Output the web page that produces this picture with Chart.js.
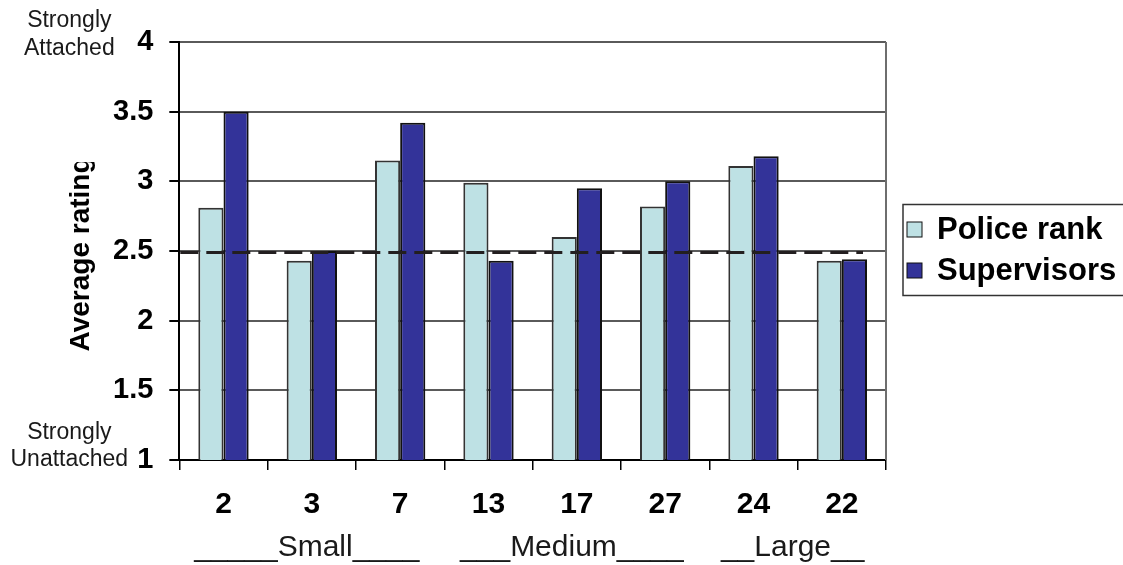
<!DOCTYPE html>
<html><head><meta charset="utf-8">
<script src="https://cdn.jsdelivr.net/npm/chart.js@4.4.0/dist/chart.umd.min.js"></script>
<style>html,body{margin:0;padding:0;background:#fff;} #wrap{width:1123px;height:565px;position:relative;}</style>
</head><body><div id="wrap"><canvas id="c"></canvas></div>
<script>
const categories = ['2','3','7','13','17','27','24','22'];
const seriesNames = ['Police rank','Supervisors'];
const policeRank = [2.81, 2.43, 3.15, 2.99, 2.60, 2.82, 3.11, 2.43];
const supervisors = [3.50, 2.50, 3.42, 2.43, 2.95, 3.00, 3.18, 2.44];
const seriesColors = ['#bee1e4', '#333399'];
const groupLabels = ['_____Small____', '___Medium____', '__Large__'];
const groupFirst = [0, 3, 6];
const groupLast = [2, 5, 7];
const yMin = 1, yMax = 4, yStep = 0.5;
const referenceLevel = [2.49];
const topEndLabel = ['Strongly', 'Attached'];
const bottomEndLabel = ['Strongly', 'Unattached'];
const yTitle = 'Average rating';

const FONT = "Arial, 'Liberation Sans', sans-serif";

const extras = {
  id: 'extras',
  afterDatasetsDraw(chart) {
    const {ctx, chartArea: a, scales: {y}} = chart;
    ctx.save();
    const ry = y.getPixelForValue(referenceLevel[0]);
    ctx.strokeStyle = '#231f20';
    ctx.lineWidth = 3;
    ctx.setLineDash([18, 8]);
    ctx.beginPath();
    ctx.moveTo(a.left + 1, ry);
    ctx.lineTo(a.right - 23, ry);
    ctx.stroke();
    ctx.restore();
  },
  afterDraw(chart) {
    const {ctx, chartArea: a, scales: {x, y}, width, height} = chart;
    ctx.save();
    ctx.strokeStyle = '#6e6e6e';
    ctx.lineWidth = 2;
    ctx.beginPath();
    ctx.moveTo(a.right, a.top);
    ctx.lineTo(a.right, a.bottom);
    ctx.stroke();

    ctx.fillStyle = '#1a1a1a';
    ctx.font = '30px ' + FONT;
    ctx.textAlign = 'center';
    ctx.textBaseline = 'alphabetic';
    for (let i = 0; i < groupLabels.length; i++) {
      const cx = (x.getPixelForValue(groupFirst[i]) + x.getPixelForValue(groupLast[i])) / 2 - 5;
      ctx.fillText(groupLabels[i], cx, a.bottom + 96);
    }

    ctx.font = '23px ' + FONT;
    const ex = a.left - 110;
    const y4 = y.getPixelForValue(yMax);
    const y1 = y.getPixelForValue(yMin);
    ctx.fillText(topEndLabel[0], ex, y4 - 15);
    ctx.fillText(topEndLabel[1], ex, y4 + 13);
    ctx.fillText(bottomEndLabel[0], ex, y1 - 21);
    ctx.fillText(bottomEndLabel[1], ex, y1 + 6);

    ctx.save();
    ctx.beginPath();
    ctx.rect(0, a.top + 120, a.left, height);
    ctx.clip();
    ctx.translate(a.left - 90, (a.top + a.bottom) / 2 + 3);
    ctx.rotate(-Math.PI / 2);
    ctx.font = 'bold 28px ' + FONT;
    ctx.fillStyle = '#000';
    ctx.textAlign = 'center';
    ctx.textBaseline = 'alphabetic';
    ctx.fillText(yTitle, 0, 0);
    ctx.restore();

    const mid = (a.top + a.bottom) / 2;
    const lx = a.right + 17;
    ctx.strokeStyle = '#333';
    ctx.lineWidth = 1.5;
    ctx.strokeRect(lx, mid - 46.5, width - lx + 5, 91);
    const rows = [mid - 21.5, mid + 19.5];
    ctx.font = 'bold 31px ' + FONT;
    ctx.textAlign = 'left';
    ctx.textBaseline = 'middle';
    chart.data.datasets.forEach((ds, i) => {
      ctx.fillStyle = ds.backgroundColor;
      ctx.fillRect(lx + 4, rows[i] - 7.5, 15, 15);
      ctx.strokeStyle = '#111';
      ctx.lineWidth = 1;
      ctx.strokeRect(lx + 4, rows[i] - 7.5, 15, 15);
      ctx.fillStyle = '#000';
      ctx.fillText(ds.label, lx + 34, rows[i] + 1);
    });
    ctx.restore();
  }
};

new Chart(document.getElementById('c'), {
  type: 'bar',
  data: {
    labels: categories,
    datasets: [
      {label: seriesNames[0], data: policeRank, backgroundColor: seriesColors[0], borderColor: '#333', borderWidth: 2},
      {label: seriesNames[1], data: supervisors, backgroundColor: seriesColors[1], borderColor: '#111', borderWidth: 2}
    ]
  },
  options: {
    responsive: true,
    maintainAspectRatio: false,
    animation: false,
    layout: {padding: {left: 97, right: 237, top: 42, bottom: 25}},
    datasets: {bar: {categoryPercentage: 0.57, barPercentage: 1.0}},
    plugins: {legend: {display: false}, tooltip: {enabled: false}},
    scales: {
      x: {
        grid: {offset: true, drawOnChartArea: false, drawTicks: true, tickLength: 10, color: '#000', lineWidth: 1.5},
        border: {display: true, color: '#000', width: 2},
        ticks: {font: {family: FONT, size: 30, weight: 'bold'}, color: '#000', padding: 17, maxRotation: 0, autoSkip: false}
      },
      y: {
        min: yMin, max: yMax,
        grid: {color: '#5a5a5a', lineWidth: 2, tickLength: 10, tickColor: '#000'},
        border: {display: true, color: '#000', width: 2},
        ticks: {stepSize: yStep, font: {family: FONT, size: 29, weight: 'bold'}, color: '#000', padding: 16,
          callback: (v) => String(v)}
      }
    }
  },
  plugins: [extras]
});
</script>
</body></html>
